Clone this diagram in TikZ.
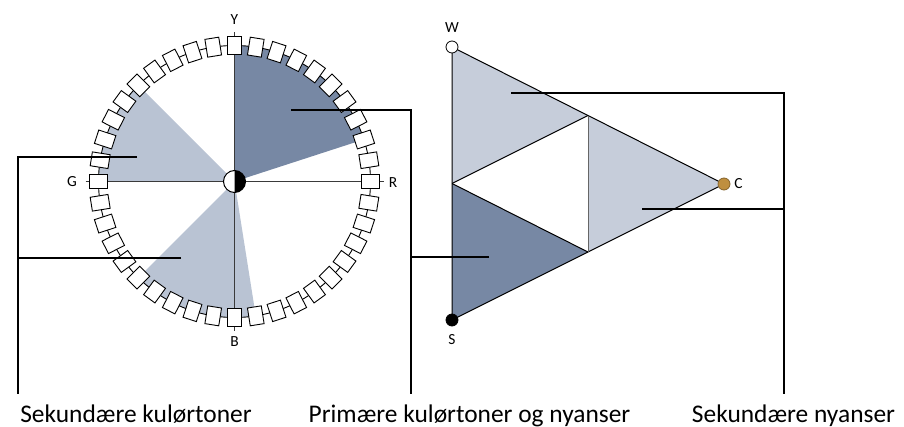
\documentclass[tikz,border=0pt]{standalone}
\usepackage{fontspec}
\setmainfont{Carlito}
\definecolor{darkfill}{HTML}{7788A4}
\definecolor{lightfill}{HTML}{B9C3D3}
\definecolor{trilight}{HTML}{C6CDDA}
\definecolor{axisgray}{HTML}{3A3A3A}
\definecolor{gold}{HTML}{BF8F3F}
\tikzset{
  sq/.style={draw=black, fill=white, line width=0.9bp, minimum width=18bp, minimum height=14bp, inner sep=0pt, rectangle},
  callout/.style={draw=black, line width=2bp},
  axisline/.style={draw=axisgray, line width=1.4bp},
  tri/.style={draw=black, line width=1bp, line join=round},
  small/.style={font=\fontsize{15.5}{15.5}\selectfont, inner sep=0pt},
  big/.style={font=\fontsize{25.5}{25.5}\selectfont, inner sep=0pt, anchor=base},
  vdot/.style={circle, draw=black, line width=0.8bp, minimum size=12bp, inner sep=0pt}
}
\begin{document}
\begin{tikzpicture}[x=1bp,y=1bp]
\useasboundingbox (0,0) rectangle (904,426);
% ---------------- colour circle ----------------
\begin{scope}[shift={(234.5,244.5)}]
  \coordinate (O) at (0,0);
  \fill[darkfill] (0,0) -- (18:136) arc[start angle=18,end angle=90,radius=136bp] -- cycle;
  \fill[lightfill] (0,0) -- (135:136) arc[start angle=135,end angle=180,radius=136bp] -- cycle;
  \fill[lightfill] (0,0) -- (225:136) arc[start angle=225,end angle=279,radius=136bp] -- cycle;
  \coordinate (aR) at (0:149);
  \coordinate (aY) at (90:149);
  \coordinate (aG) at (180:149);
  \coordinate (aB) at (270:149);
  \draw[axisline] (aG) -- (aR);
  \draw[axisline] (aB) -- (aY);
  \draw[black, line width=0.9bp] (0,0) circle[radius=136bp];
  \foreach \a in {0,9,...,351} {
    \node[sq, rotate=\a] (s\a) at (\a:136) {};
  }
  \fill[white] (0,0) circle[radius=11bp];
  \fill[black] (0,11) arc[start angle=90,end angle=-90,radius=11bp] -- cycle;
  \draw[black, line width=1bp] (0,0) circle[radius=11bp];
\end{scope}
\node[small] (lY) at (234.5,406) {Y};
\node[small] (lG) at (72,244) {G};
\node[small] (lR) at (393,243) {R};
\node[small] (lB) at (234.5,84) {B};
% ---------------- triangle ----------------
\coordinate (W) at (452,379);
\coordinate (S) at (452,106);
\coordinate (C) at (724,242);
\coordinate (mWS) at (452,242.5);
\coordinate (mWC) at (588,310.5);
\coordinate (mSC) at (588,174);
\fill[trilight] (W) -- (mWC) -- (mWS) -- cycle;
\fill[trilight] (mWC) -- (C) -- (mSC) -- cycle;
\fill[darkfill] (mWS) -- (mSC) -- (S) -- cycle;
\draw[tri] (W) -- (C) -- (S) -- cycle;
\draw[tri] (mWS) -- (mWC);
\draw[tri] (mWS) -- (mSC);
\draw[draw=gray!80!black, line width=1bp] (mWC) -- (mSC);
\node[vdot, fill=white] (dW) at (W) {};
\node[vdot, fill=black] (dS) at (S) {};
\node[vdot, fill=gold, draw=gold!70!black] (dC) at (C) {};
\node[small] (lW) at (452,398) {W};
\node[small] (lS) at (452,86) {S};
\node[small] (lC) at (738.5,242) {C};
% ---------------- callouts ----------------
\coordinate (p1) at (137,269);
\coordinate (p2) at (181,168);
\coordinate (k1) at (18,269);
\coordinate (k2) at (18,168);
\coordinate (e1) at (18,32);
\draw[callout] (p1) -- (k1) -- (e1);
\draw[callout] (p2) -- (k2);
\coordinate (p3) at (291,316);
\coordinate (p4) at (489,169);
\coordinate (k3) at (411,316);
\coordinate (k4) at (411,169);
\coordinate (e2) at (411,32);
\draw[callout] (p3) -- (k3) -- (e2);
\draw[callout] (p4) -- (k4);
\coordinate (p5) at (511,333);
\coordinate (p6) at (642,217);
\coordinate (k5) at (784,333);
\coordinate (k6) at (784,217);
\coordinate (e3) at (784,32);
\draw[callout] (p5) -- (k5) -- (e3);
\draw[callout] (p6) -- (k6);
\node[big] (t1) at (136,3.5) {Sekundære kulørtoner};
\node[big] (t2) at (469.5,3.5) {Primære kulørtoner og nyanser};
\node[big] (t3) at (793.5,3.5) {Sekundære nyanser};
\end{tikzpicture}
\end{document}
